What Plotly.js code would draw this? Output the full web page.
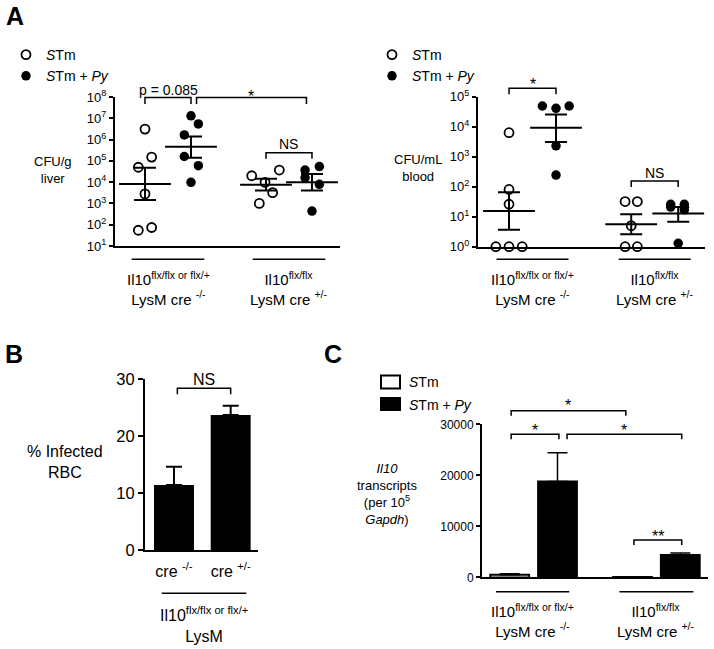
<!DOCTYPE html>
<html>
<head>
<meta charset="utf-8">
<script src="https://cdn.plot.ly/plotly-3.0.1.min.js"></script>
<style>html,body{margin:0;padding:0;background:#fff;}#chart{width:714px;height:649px;}</style>
</head>
<body>
<div id="chart"></div>
<script>
// ---------------- DATA ----------------
const seriesNames = ['<i>S</i>Tm', '<i>S</i>Tm + <i>Py</i>'];
const groupLabels = ['Il10<sup>flx/flx or flx/+</sup><br>LysM cre <sup>-/-</sup>',
                     'Il10<sup>flx/flx</sup><br>LysM cre <sup>+/-</sup>'];

// Panel A, liver (CFU/g)
const liverSTmCtrl = [3.1e6, 1.5e5, 5e4, 2.8e3, 55, 74];
const liverPyCtrl  = [1.3e7, 5.4e6, 1.66e6, 1.6e5, 5.9e4, 9.8e3];
const liverSTmKO   = [2e4, 9.8e3, 3.7e4, 3.2e3, 1e3];
const liverPyKO    = [3.7e4, 5.4e4, 1.6e4, 7.9e3, 440];
const liverJitter  = [[0, 0.145, -0.145, 0, -0.145, 0.145],
                      [0, 0.16, -0.145, -0.145, 0.16, 0],
                      [-0.31, -0.02, 0.29, 0.145, -0.145],
                      [-0.15, 0.16, -0.15, 0.16, 0]];
const liverMean  = [8100, 4.6e5, 7600, 9800];
const liverUpper = [4.8e4, 1.38e6, 1.45e4, 2.4e4];
const liverLower = [1450, 1.4e5, 4000, 4100];

// Panel A, blood (CFU/mL)
const bloodSTmCtrl = [6300, 81, 26, 1, 1, 1];
const bloodPyCtrl  = [49000, 41000, 49000, 2300, 245];
const bloodSTmKO   = [32, 32, 5, 1, 1];
const bloodPyKO    = [26, 21, 26, 17, 1.3];
const bloodJitter  = [[0, 0, 0, -0.28, 0, 0.28],
                      [-0.29, 0, 0.28, 0, 0],
                      [-0.13, 0.13, 0, -0.13, 0.13],
                      [-0.16, -0.16, 0.13, 0.13, 0]];
const bloodMean  = [15.5, 9300, 5.6, 12.9];
const bloodUpper = [65, 25700, 12, 21];
const bloodLower = [3.7, 3100, 2.6, 6.8];

// Panel B, % infected RBC
const bCategories = ['cre <sup>-/-</sup>', 'cre <sup>+/-</sup>'];
const bPct = [11.4, 23.7];
const bErr = [3.2, 1.6];

// Panel C, Il10 transcripts
const cSTm    = [500, 80];
const cSTmErr = [200, 20];
const cPy     = [18800, 4400];
const cPyErr  = [5600, 360];

// ---------------- LAYOUT HELPERS ----------------
const W = 714, H = 649;
const FAM = '"Liberation Sans", Arial, sans-serif';
const px = x => x / W;
const py = y => 1 - y / H;

const posA = [0, 1, 2.63, 3.63];     // liver group positions
const posA2 = [0, 1, 2.6, 3.6];      // blood group positions
const posB = [0, 1];
const posC = [[0, 2.57], [1, 3.57]];

function pointTrace(vals, center, jit, filled, xa, ya, name, showleg, leg) {
  return {
    type: 'scatter', mode: 'markers', xaxis: xa, yaxis: ya,
    x: vals.map((v, i) => center + jit[i]), y: vals,
    name: name, showlegend: showleg, legend: leg, cliponaxis: false,
    marker: filled ? {symbol: 'circle', size: 9.5, color: 'black'}
                   : {symbol: 'circle-open', size: 9, color: 'black', line: {width: 1.8, color: 'black'}},
    hoverinfo: 'skip'
  };
}
function meanTrace(center, m, up, lo, xa, ya) {
  return {
    type: 'scatter', mode: 'markers', xaxis: xa, yaxis: ya,
    x: [center], y: [m], showlegend: false, cliponaxis: false,
    marker: {symbol: 'line-ew-open', size: 37, color: 'black', line: {width: 2, color: 'black'}},
    error_y: {type: 'data', symmetric: false, array: [up - m], arrayminus: [m - lo],
              width: 11, thickness: 2, color: 'black'},
    hoverinfo: 'skip'
  };
}

const traces = [];
// Liver
const liverSets = [liverSTmCtrl, liverPyCtrl, liverSTmKO, liverPyKO];
liverSets.forEach((vals, g) => {
  const filled = g % 2 === 1;
  traces.push(pointTrace(vals, posA[g], liverJitter[g], filled, 'x', 'y',
    seriesNames[g % 2], g < 2, 'legend'));
});
liverSets.forEach((vals, g) => traces.push(meanTrace(posA[g], liverMean[g], liverUpper[g], liverLower[g], 'x', 'y')));
// Blood
const bloodSets = [bloodSTmCtrl, bloodPyCtrl, bloodSTmKO, bloodPyKO];
bloodSets.forEach((vals, g) => {
  const filled = g % 2 === 1;
  traces.push(pointTrace(vals, posA2[g], bloodJitter[g], filled, 'x2', 'y2',
    seriesNames[g % 2], g < 2, 'legend2'));
});
bloodSets.forEach((vals, g) => traces.push(meanTrace(posA2[g], bloodMean[g], bloodUpper[g], bloodLower[g], 'x2', 'y2')));
// Panel B
traces.push({
  type: 'bar', xaxis: 'x3', yaxis: 'y3', x: posB, y: bPct, width: 0.705,
  marker: {color: 'black', line: {width: 0}}, showlegend: false, hoverinfo: 'skip',
  error_y: {type: 'data', symmetric: false, array: bErr, arrayminus: [0, 0], width: 8, thickness: 2, color: 'black'}
});
// Panel C
traces.push({
  type: 'bar', xaxis: 'x4', yaxis: 'y4', x: posC[0], y: cSTm, width: 0.816, name: seriesNames[0],
  showlegend: false, marker: {color: 'white', line: {width: 1.8, color: 'black'}}, hoverinfo: 'skip',
  error_y: {type: 'data', symmetric: false, array: cSTmErr, arrayminus: [0, 0], width: 10, thickness: 1.5, color: 'black'}
});
traces.push({
  type: 'bar', xaxis: 'x4', yaxis: 'y4', x: posC[1], y: cPy, width: 0.816, name: seriesNames[1],
  showlegend: false, marker: {color: 'black', line: {width: 1.8, color: 'black'}}, hoverinfo: 'skip',
  error_y: {type: 'data', symmetric: false, array: cPyErr, arrayminus: [0, 0], width: 10, thickness: 1.5, color: 'black'}
});

// ---------------- AXES ----------------
function xAx(d, r, anchor) {
  return {domain: [px(d[0]), px(d[1])], range: r, anchor: anchor, showline: true, linewidth: 2,
          linecolor: 'black', showgrid: false, zeroline: false, showticklabels: false, ticks: '', fixedrange: true};
}
function yAx(d, r, anchor, extra) {
  return Object.assign({domain: [py(d[1]), py(d[0])], range: r, anchor: anchor, showline: true, linewidth: 2,
          linecolor: 'black', showgrid: false, zeroline: false, ticks: 'outside', ticklen: 4, tickwidth: 2,
          tickcolor: 'black', tickfont: {family: FAM, size: 13, color: 'black'}, fixedrange: true}, extra);
}
const pow = n => '10<sup>' + n + '</sup>';
const liverTicks = [1, 2, 3, 4, 5, 6, 7, 8];
const bloodTicks = [0, 1, 2, 3, 4, 5];

const layout = {
  width: W, height: H, autosize: false,
  margin: {l: 0, r: 0, t: 0, b: 0},
  paper_bgcolor: 'white', plot_bgcolor: 'rgba(0,0,0,0)',
  font: {family: FAM, color: 'black', size: 14},
  barmode: 'overlay', hovermode: false,
  xaxis: xAx([115, 340], [-0.652, 4.239], 'y'),
  yaxis: yAx([97, 246], [1, 8], 'x', {type: 'log', tickvals: liverTicks.map(n => Math.pow(10, n)), ticktext: liverTicks.map(pow)}),
  xaxis2: xAx([478, 705], [-0.66, 4.17], 'y2'),
  yaxis2: yAx([96.7, 246.7], [0, 5], 'x2', {type: 'log', tickvals: bloodTicks.map(n => Math.pow(10, n)), ticktext: bloodTicks.map(pow)}),
  xaxis3: Object.assign(xAx([145, 258], [-0.511, 1.482], 'y3'), {
    showticklabels: true, tickvals: posB, ticktext: bCategories, ticks: 'outside', ticklen: 6,
    tickcolor: 'rgba(0,0,0,0)', tickfont: {family: FAM, size: 16, color: 'black'}}),
  yaxis3: yAx([379, 550], [0, 30], 'x3', {tickvals: [0, 10, 20, 30], ticklen: 5, tickfont: {family: FAM, size: 16.5, color: 'black'}}),
  xaxis4: xAx([482, 708], [-0.58, 4.15], 'y4'),
  yaxis4: yAx([424.3, 577.3], [0, 30000], 'x4', {tickvals: [0, 10000, 20000, 30000], ticktext: ['0', '10000', '20000', '30000'],
    tickfont: {family: FAM, size: 12, color: 'black'}}),
  legend:  {x: px(6), y: py(39), xanchor: 'left', yanchor: 'top', bgcolor: 'rgba(0,0,0,0)',
            font: {family: FAM, size: 14}, itemclick: false, itemdoubleclick: false},
  legend2: {x: px(372), y: py(39), xanchor: 'left', yanchor: 'top', bgcolor: 'rgba(0,0,0,0)',
            font: {family: FAM, size: 14}, itemclick: false, itemdoubleclick: false},
  shapes: [], annotations: []
};

// ---------------- BRACKETS, UNDERLINES, LABELS ----------------
function bracket(xa, x0, x1, yTop, leg, text, size, textY) {
  layout.shapes.push({type: 'path', xref: xa, yref: 'paper',
    path: `M ${x0},${py(yTop + leg)} L ${x0},${py(yTop)} L ${x1},${py(yTop)} L ${x1},${py(yTop + leg)}`,
    line: {color: 'black', width: 1.5}});
  layout.annotations.push({xref: xa, yref: 'paper', x: (x0 + x1) / 2, y: py(textY), text: text,
    showarrow: false, xanchor: 'center', yanchor: 'middle', font: {family: FAM, size: size, color: 'black'}});
}
function underline(xa, c, half, y) {
  layout.shapes.push({type: 'line', xref: xa, yref: 'paper', x0: c - half, x1: c + half, y0: py(y), y1: py(y),
    line: {color: 'black', width: 1.5}});
}
function label(xref, x, y, text, size, extra) {
  layout.annotations.push(Object.assign({xref: xref, yref: 'paper', x: x, y: py(y), text: text, showarrow: false,
    xanchor: 'center', yanchor: 'middle', align: 'center', font: {family: FAM, size: size, color: 'black'}}, extra || {}));
}

// Panel letters
label('paper', px(15), 16, '<b>A</b>', 25);
label('paper', px(14), 354, '<b>B</b>', 25);
label('paper', px(333), 354, '<b>C</b>', 25);

// Liver
label('paper', px(53), 170, 'CFU/g<br>liver', 13);
bracket('x', posA[0], posA[1], 97.5, 6.5, 'p = 0.085', 14, 90.5);
bracket('x', 1.12, 3.51, 97.5, 6.5, '*', 16, 97);
bracket('x', posA[2], posA[3], 152.7, 6, 'NS', 14, 144);
underline('x', (posA[0] + posA[1]) / 2, 0.79, 259.3);
underline('x', (posA[2] + posA[3]) / 2, 0.79, 259.3);
label('x', (posA[0] + posA[1]) / 2, 288, groupLabels[0], 15);
label('x', (posA[2] + posA[3]) / 2, 288, groupLabels[1], 15);

// Blood
label('paper', px(418), 168, 'CFU/mL<br>blood', 13);
bracket('x2', posA2[0], posA2[1], 88.3, 6, '*', 16, 85);
bracket('x2', posA2[2], posA2[3], 181, 6, 'NS', 14, 173.3);
underline('x2', (posA2[0] + posA2[1]) / 2, 0.766, 259.3);
underline('x2', (posA2[2] + posA2[3]) / 2, 0.766, 259.3);
label('x2', (posA2[0] + posA2[1]) / 2, 288, groupLabels[0], 15);
label('x2', (posA2[2] + posA2[3]) / 2, 288, groupLabels[1], 15);

// Panel B
label('paper', px(65), 462, '% Infected<br>RBC', 16);
bracket('x3', 0.06, 1.0, 388.3, 6, 'NS', 16, 379.3);
underline('x3', 0.53, 0.745, 593.3);
label('x3', 0.53, 624, 'Il10<sup>flx/flx or flx/+</sup><br>LysM', 16);

// Panel C
label('paper', px(387), 494, '<i>Il10</i><br>transcripts<br>(per 10<sup>5</sup><br><i>Gapdh</i>)', 13);
// legend keys for panel C (open and filled bar swatches)
layout.shapes.push({type: 'rect', xref: 'paper', yref: 'paper', x0: px(381), x1: px(400), y0: py(388.5), y1: py(375.5),
  fillcolor: 'white', line: {color: 'black', width: 2}});
layout.shapes.push({type: 'rect', xref: 'paper', yref: 'paper', x0: px(380), x1: px(401), y0: py(411), y1: py(397),
  fillcolor: 'black', line: {color: 'black', width: 0}});
label('paper', px(406.5), 382, seriesNames[0], 14, {xanchor: 'left'});
label('paper', px(406.5), 404.5, seriesNames[1], 14, {xanchor: 'left'});
bracket('x4', 0.03, 2.43, 410.7, 5, '*', 16, 405);
bracket('x4', 0.03, 1.03, 434.3, 5, '*', 16, 430);
bracket('x4', 1.2, 3.6, 434.3, 5, '*', 16, 430);
bracket('x4', 2.6, 3.6, 540, 5, '**', 16, 536);
underline('x4', 0.48, 0.767, 591.7);
underline('x4', 3.07, 0.774, 591.7);
label('x4', 0.48, 620, groupLabels[0], 15);
label('x4', 3.07, 620, groupLabels[1], 15);

Plotly.newPlot('chart', traces, layout, {displayModeBar: false, responsive: false});
</script>
</body>
</html>
